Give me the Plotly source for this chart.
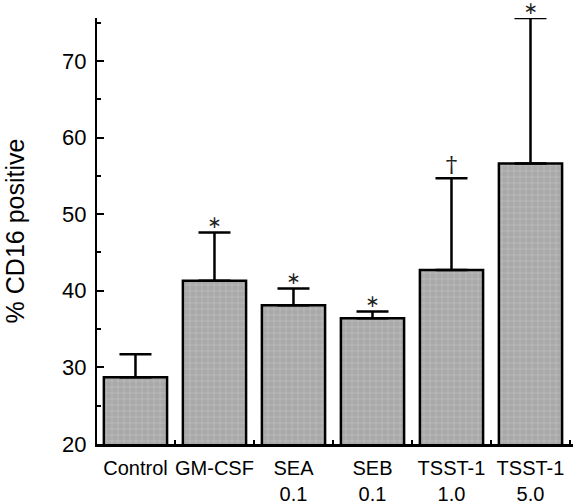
import plotly.graph_objects as go

categories = ["Control", "GM-CSF", "SEA<br>0.1", "SEB<br>0.1", "TSST-1<br>1.0", "TSST-1<br>5.0"]
means = [28.7, 41.3, 38.1, 36.4, 42.7, 56.6]
sems = [3.0, 6.3, 2.2, 0.9, 12.0, 19.0]
marks = ["", "∗", "∗", "∗", "†", "∗"]

tops = [m + s for m, s in zip(means, sems)]
mark_fonts = ["DejaVu Serif" if k == "†" else "DejaVu Sans" for k in marks]
mark_sizes = [23 if k == "†" else 17 for k in marks]

fig = go.Figure()
fig.add_trace(go.Bar(
    x=categories, y=means,
    marker=dict(
        color="#ababab",
        line=dict(color="black", width=2.5),
        pattern=dict(shape="+", fgcolor="#e8e8e8", bgcolor="#a9a9a9", size=6, solidity=0.15),
    ),
    error_y=dict(type="data", array=sems, arrayminus=[0]*len(sems), symmetric=False,
                 color="black", thickness=2.5, width=16),
    cliponaxis=False,
    width=0.8,
))
fig.add_trace(go.Scatter(
    x=categories, y=tops, text=marks, mode="text", textposition="top center",
    textfont=dict(family=mark_fonts, size=mark_sizes, color="#222222"),
    cliponaxis=False, hoverinfo="skip",
))

fig.update_layout(
    width=576, height=502,
    margin=dict(l=97, r=3, t=18, b=58, autoexpand=False),
    plot_bgcolor="white", paper_bgcolor="white",
    showlegend=False,
    font=dict(family="Liberation Sans, Arial, sans-serif", color="black", size=20),
    bargap=0.2,
)
fig.update_xaxes(
    range=[-0.487, 5.538], showline=True, linecolor="black", linewidth=3,
    ticks="inside", tickson="boundaries", ticklen=4, tickwidth=2, tickcolor="black",
    showgrid=False, tickfont=dict(size=20), ticklabelstandoff=4, tickangle=0, automargin=False,
)
fig.update_yaxes(
    range=[20, max(tops)], showline=True, linecolor="black", linewidth=2,
    ticks="inside", ticklen=7, tickwidth=2, tickcolor="black",
    tick0=20, dtick=10, showgrid=False, zeroline=False,
    minor=dict(ticks="inside", dtick=5, tick0=20, ticklen=4, tickwidth=1.5, tickcolor="black"),
    tickfont=dict(size=22), ticklabelstandoff=4, automargin=False,
    title=dict(text="% CD16 positive", font=dict(size=25), standoff=30),
)

fig.write_html("out.html", config={"displayModeBar": False},
               post_script="document.body.style.margin='0';")
